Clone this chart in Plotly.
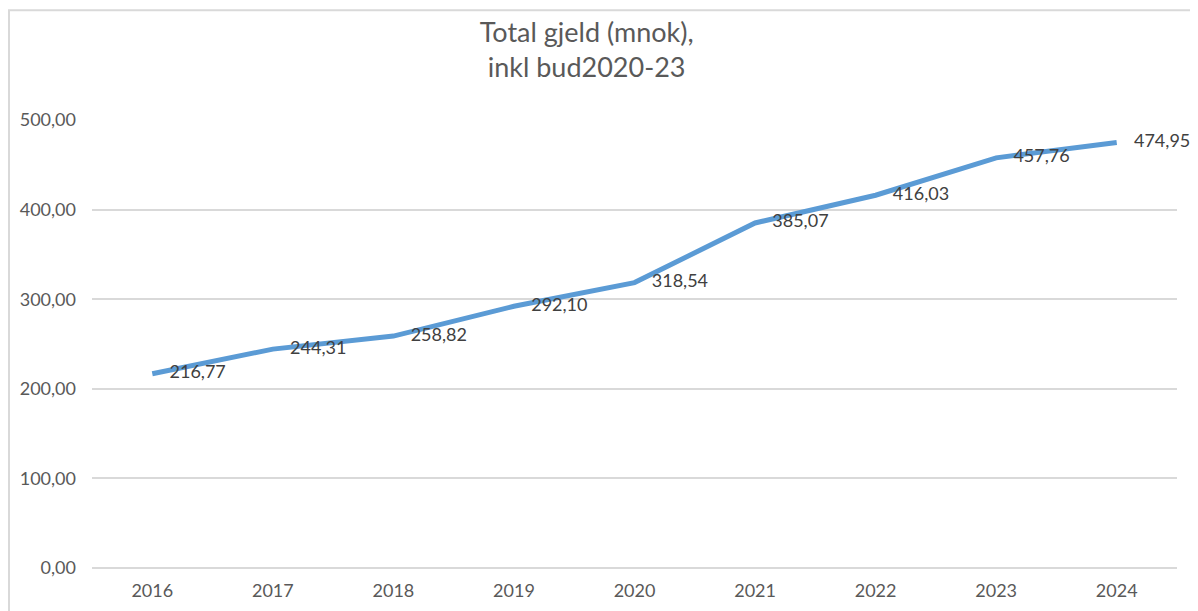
import plotly.graph_objects as go

years = ["2016", "2017", "2018", "2019", "2020", "2021", "2022", "2023", "2024"]
gjeld = [216.77, 244.31, 258.82, 292.10, 318.54, 385.07, 416.03, 457.76, 474.95]
y_ticks = [0, 100, 200, 300, 400, 500]
y_tick_text = ["0,00", "100,00", "200,00", "300,00", "400,00", "500,00"]

FONT = "Lato, Carlito, Calibri, sans-serif"
GREY = "#595959"

labels = [f"{v:.2f}".replace(".", ",") for v in gjeld]

fig = go.Figure()
fig.add_trace(go.Scatter(
    x=years, y=gjeld, mode="lines+markers+text",
    line=dict(color="#5B9BD5", width=5),
    marker=dict(size=26, color="rgba(0,0,0,0)"),
    text=labels, textposition="middle right",
    textfont=dict(family=FONT, size=18, color="#404040"),
    cliponaxis=False, hoverinfo="skip", showlegend=False,
))

# the page puts the plot 8px in from the top-left corner
fig.update_layout(
    width=1198, height=611,
    paper_bgcolor="white", plot_bgcolor="white",
    margin=dict(l=84, r=29, t=112, b=51),
    title=dict(text="Total gjeld (mnok),<br>inkl bud2020-23", x=0.483, xanchor="center",
               y=0.944, yanchor="top",
               font=dict(family=FONT, size=27, color=GREY)),
    xaxis=dict(type="category", range=[-0.5, len(years) - 0.5], showgrid=False,
               showline=False, ticks="",
               tickfont=dict(family=FONT, size=18, color=GREY), ticklabelstandoff=10),
    yaxis=dict(range=[0, 500], tickvals=y_ticks, ticktext=y_tick_text,
               showgrid=True, gridcolor="#D9D9D9", gridwidth=1.5, zeroline=True,
               zerolinecolor="#D9D9D9", zerolinewidth=1.5,
               tickfont=dict(family=FONT, size=18, color=GREY), ticklabelstandoff=15),
    shapes=[dict(type="rect", xref="paper", yref="paper",
                 x0=-83 / 1085, x1=1.05, y0=-0.2, y1=1.245,
                 line=dict(color="#D9D9D9", width=2), fillcolor="rgba(0,0,0,0)", layer="below")],
)

fig.write_html("out.html")
